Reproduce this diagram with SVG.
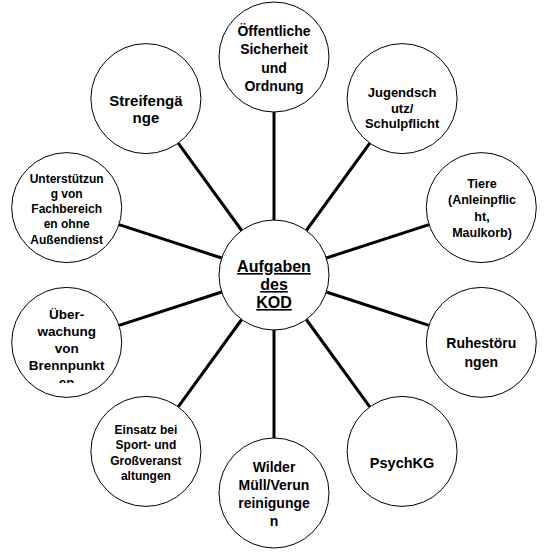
<svg xmlns="http://www.w3.org/2000/svg" width="547" height="553" viewBox="0 0 547 553">
<style>
.bg{fill:#fff}
.conn{stroke:#000;stroke-width:3;stroke-linecap:butt}
.node{fill:#fff;stroke:#000;stroke-width:1}
.t{font-family:"Liberation Sans",Arial,sans-serif;font-weight:bold;fill:#000;text-anchor:middle}
</style>
<defs>
<clipPath id="clipUeber"><rect x="0" y="280" width="140" height="103"/></clipPath>
</defs>
<rect class="bg" x="0" y="0" width="547" height="553"/>
<g id="connectors">
<line class="conn" x1="274" y1="220" x2="274" y2="112"/>
<line class="conn" x1="306.3" y1="230.5" x2="369.8" y2="143.1"/>
<line class="conn" x1="326.3" y1="258" x2="429" y2="224.6"/>
<line class="conn" x1="326.3" y1="292" x2="429" y2="325.4"/>
<line class="conn" x1="306.3" y1="319.5" x2="369.8" y2="406.9"/>
<line class="conn" x1="274" y1="330" x2="274" y2="438"/>
<line class="conn" x1="241.7" y1="319.5" x2="178.2" y2="406.9"/>
<line class="conn" x1="221.7" y1="292" x2="119" y2="325.4"/>
<line class="conn" x1="221.7" y1="258" x2="119" y2="224.6"/>
<line class="conn" x1="241.7" y1="230.5" x2="178.2" y2="143.1"/>
</g>
<g id="center">
<circle class="node" cx="274" cy="275" r="55"/>
<text class="t" style="font-size:16px;text-decoration:underline"><tspan x="274" y="272">Aufgaben</tspan><tspan x="274" y="290">des</tspan><tspan x="274" y="308">KOD</tspan></text>
</g>
<g id="n-oeffentlich">
<circle class="node" cx="274" cy="57" r="55"/>
<text class="t" style="font-size:14px"><tspan x="274" y="35.5">Öffentliche</tspan><tspan x="274" y="54">Sicherheit</tspan><tspan x="274" y="72.5">und</tspan><tspan x="274" y="91">Ordnung</tspan></text>
</g>
<g id="n-jugendschutz">
<circle class="node" cx="402.1" cy="98.6" r="55"/>
<text class="t" style="font-size:13px"><tspan x="402.1" y="97">Jugendsch</tspan><tspan x="402.1" y="112.5">utz/</tspan><tspan x="402.1" y="128">Schulpflicht</tspan></text>
</g>
<g id="n-tiere">
<circle class="node" cx="481.3" cy="207.6" r="55"/>
<text class="t" style="font-size:12.5px"><tspan x="482" y="187.5">Tiere</tspan><tspan x="482" y="204">(Anleinpflic</tspan><tspan x="482" y="220.5">ht,</tspan><tspan x="482" y="237">Maulkorb)</tspan></text>
</g>
<g id="n-ruhe">
<circle class="node" cx="481.3" cy="342.4" r="55"/>
<text class="t" style="font-size:14px"><tspan x="481.3" y="348">Ruhestöru</tspan><tspan x="481.3" y="367">ngen</tspan></text>
</g>
<g id="n-psychkg">
<circle class="node" cx="402.1" cy="451.4" r="55"/>
<text class="t" style="font-size:14.5px"><tspan x="402.1" y="468">PsychKG</tspan></text>
</g>
<g id="n-wilder">
<circle class="node" cx="274" cy="493" r="55"/>
<text class="t" style="font-size:14px"><tspan x="274" y="472">Wilder</tspan><tspan x="274" y="490">Müll/Verun</tspan><tspan x="274" y="508">reinigunge</tspan><tspan x="274" y="526">n</tspan></text>
</g>
<g id="n-einsatz">
<circle class="node" cx="145.9" cy="451.4" r="55"/>
<text class="t" style="font-size:12px"><tspan x="145.9" y="433.5">Einsatz bei</tspan><tspan x="145.9" y="449">Sport- und</tspan><tspan x="145.9" y="464.5">Großveranst</tspan><tspan x="145.9" y="480">altungen</tspan></text>
</g>
<g id="n-ueberwachung">
<circle class="node" cx="66.7" cy="342.4" r="55"/>
<text class="t" style="font-size:13.5px" clip-path="url(#clipUeber)"><tspan x="66.7" y="319">Über-</tspan><tspan x="66.7" y="336">wachung</tspan><tspan x="66.7" y="353">von</tspan><tspan x="66.7" y="370">Brennpunkt</tspan><tspan x="66.7" y="387">en</tspan></text>
</g>
<g id="n-unterstuetzung">
<circle class="node" cx="66.7" cy="207.6" r="55"/>
<text class="t" style="font-size:12px"><tspan x="66.7" y="182.5">Unterstützun</tspan><tspan x="66.7" y="197.5">g von</tspan><tspan x="66.7" y="213">Fachbereich</tspan><tspan x="66.7" y="228">en ohne</tspan><tspan x="66.7" y="243.5">Außendienst</tspan></text>
</g>
<g id="n-streifen">
<circle class="node" cx="145.9" cy="98.6" r="55"/>
<text class="t" style="font-size:15px"><tspan x="145.9" y="105.5">Streifengä</tspan><tspan x="145.9" y="122.5">nge</tspan></text>
</g>
</svg>
